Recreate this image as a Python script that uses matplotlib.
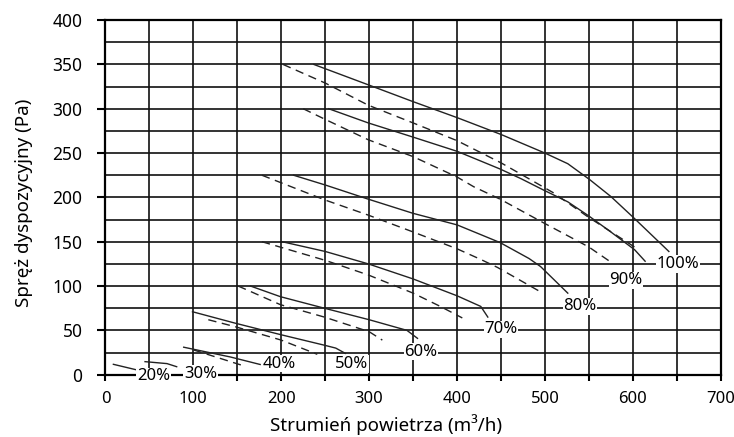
import numpy as np
import matplotlib
matplotlib.use("Agg")
import matplotlib.pyplot as plt

plt.rcParams['font.family'] = ['Noto Sans', 'DejaVu Sans']

# fan curves: (label, solid x, solid y, dashed x, dashed y)
labels = ["100%", "90%", "80%", "70%", "60%", "50%", "40%", "30%", "20%"]

solid_x = [
    [237, 299, 350, 400, 450, 500, 526, 551, 575, 601, 641],
    [254, 299, 350, 400, 427, 449, 473, 499, 526, 550, 575, 602, 614],
    [214, 250, 299, 350, 400, 427, 449, 482, 495, 526],
    [201, 250, 299, 350, 400, 427, 435],
    [165, 199, 249, 300, 343, 355],
    [99, 148, 200, 248, 262, 273],
    [89, 142, 176],
    [45, 70, 81],
    [9, 36],
]
solid_y = [
    [350, 327, 308, 290, 271, 250, 238, 220, 201, 177, 139],
    [300, 284, 268, 252, 241, 232, 221, 208, 195, 179, 161, 141, 128],
    [225, 214, 198, 182, 169, 158, 149, 131, 122, 92],
    [150, 139, 125, 108, 89, 77, 65],
    [100, 88, 75, 62, 50, 41],
    [71, 58, 45, 33.5, 30, 24],
    [31, 20, 11.5],
    [14.7, 12.5, 9],
    [11.7, 5.3],
]
dashed_x = [
    [202, 250, 299, 350, 400, 450, 473, 510, 549, 602],
    [225, 250, 299, 350, 400, 419, 449, 499, 550, 575],
    [178, 250, 299, 350, 400, 427, 446, 494],
    [178, 250, 299, 350, 381, 406],
    [151, 199, 249, 300, 315],
    [117, 148, 200, 241],
    [100, 154],
    [],
    [],
]
dashed_y = [
    [350, 329, 304, 284, 264, 239, 226, 205, 178, 144],
    [300, 288, 265, 246, 223, 212, 198, 171, 144, 127],
    [225, 197, 180, 161, 142, 130, 121, 94],
    [150, 129, 112.5, 92, 77, 64],
    [100, 79, 65, 48.5, 39],
    [62, 54, 39, 23],
    [28, 11],
    [],
    [],
]
# where the percentage labels sit
label_x = [651, 592, 540, 450, 359, 280, 198, 108, 54.5]
label_y = [125, 106.5, 77, 51, 26, 12, 12.4, 0.6, -1.7]

fig = plt.figure(figsize=(7.34, 4.37), dpi=100)
ax = fig.add_axes([0.1437, 0.1426, 0.8382, 0.8114])

ax.set_xlim(0, 700)
ax.set_ylim(0, 400)
ax.set_xticks(np.arange(0, 701, 50))
ax.set_xticklabels([str(v) if v % 100 == 0 else "" for v in range(0, 701, 50)])
ax.set_yticks(np.arange(0, 401, 50))
ax.set_yticks(np.arange(0, 401, 25), minor=True)
ax.grid(True, which='both', color='#111111', linewidth=1.2)
ax.tick_params(axis='x', which='major', direction='out', length=4, width=1.5,
               pad=7.5, labelsize=12, color='black')
ax.tick_params(axis='y', which='major', direction='out', length=6, width=1.5,
               pad=10.5, labelsize=12.5, color='black')
ax.tick_params(which='minor', length=0)
for s in ax.spines.values():
    s.set_linewidth(1.6)
    s.set_color('black')
ax.set_axisbelow(True)

for i in range(len(labels)):
    ax.plot(solid_x[i], solid_y[i], color='#222222', lw=1.0, zorder=2)
    if dashed_x[i]:
        ax.plot(dashed_x[i], dashed_y[i], color='#222222', lw=1.0,
                dashes=(6, 4), zorder=2)
    ax.text(label_x[i], label_y[i], labels[i], ha='center', va='center',
            fontsize=12, zorder=4,
            bbox=dict(facecolor='white', edgecolor='none', pad=0.5))

ax.set_xlabel("Strumień powietrza (m³/h)", fontsize=13.5)
ax.set_ylabel("Spręż dyspozycyjny (Pa)", fontsize=13.5)
ax.xaxis.set_label_coords(0.456, -0.112)
ax.yaxis.set_label_coords(-0.117, 0.484)

fig.savefig("out.png", dpi=100)
